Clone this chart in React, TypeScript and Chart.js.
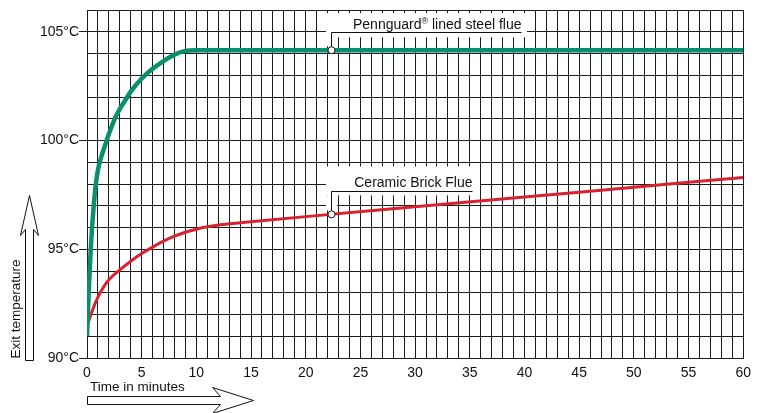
import React, { useEffect, useRef } from 'react';
import { Chart, registerables } from 'chart.js';

Chart.register(...registerables);

// ---- data ----
const steelMinutes = [0, 0.1, 0.2, 0.3, 0.4, 0.6, 0.8, 1, 1.25, 1.5, 2, 2.5, 3, 3.5, 4, 5, 6, 7, 8, 9, 10, 60];
const steelTemps = [91.0, 92.3, 93.5, 94.6, 95.5, 96.9, 97.95, 98.65, 99.15, 99.55, 100.3, 100.95, 101.45, 101.85, 102.25, 102.85, 103.3, 103.65, 103.95, 104.12, 104.15, 104.15];

const brickMinutes = [0, 0.5, 1, 1.5, 2, 3, 4, 5, 6, 7, 8, 9, 10, 11, 12, 13, 14, 20, 30, 40, 50, 60];
const brickTemps = [91.45, 92.2, 92.8, 93.25, 93.6, 94.05, 94.45, 94.8, 95.1, 95.37, 95.6, 95.78, 95.92, 96.03, 96.11, 96.17, 96.22, 96.5, 96.95, 97.4, 97.85, 98.3];

const seriesNames = ['Pennguard lined steel flue', 'Ceramic Brick Flue'];
const annotationMinute = 22.3;
const xTitle = 'Time in minutes';
const yTitle = 'Exit temperature';
const yUnit = '°C';

const FONT = '"Liberation Sans", Arial, Helvetica, sans-serif';
const GRID = '#1c1c1c';

function interp(xs: number[], ys: number[], v: number) {
  for (let i = 0; i < xs.length - 1; i++) {
    if (v >= xs[i] && v <= xs[i + 1]) {
      const t = (v - xs[i]) / (xs[i + 1] - xs[i]);
      return ys[i] + t * (ys[i + 1] - ys[i]);
    }
  }
  return ys[ys.length - 1];
}

const overlayPlugin = {
  id: 'overlay',
  afterDatasetsDraw(chart: any) {
    const { ctx, scales } = chart;
    const x = scales.x;
    const y = scales.y;
    const px = Math.round(x.getPixelForValue(annotationMinute)) + 0.5;

    ctx.save();
    // ---- Pennguard annotation ----
    {
      const py = y.getPixelForValue(interp(steelMinutes, steelTemps, annotationMinute));
      const leaderY = Math.round(py - 18) + 0.5;
      const leaderEnd = px + 190;
      ctx.fillStyle = '#fff';
      ctx.fillRect(px - 5.5, py - 37, 201, 24);
      ctx.fillRect(px - 5.5, py - 14, 11, 10);
      ctx.strokeStyle = '#111';
      ctx.lineWidth = 1;
      ctx.beginPath();
      ctx.moveTo(px, py);
      ctx.lineTo(px, leaderY);
      ctx.lineTo(leaderEnd, leaderY);
      ctx.stroke();
      ctx.fillStyle = '#111';
      ctx.textBaseline = 'alphabetic';
      ctx.textAlign = 'left';
      ctx.font = '14px ' + FONT;
      const p1 = 'Pennguard';
      const p3 = ' lined steel flue';
      const w1 = ctx.measureText(p1).width;
      const w3 = ctx.measureText(p3).width;
      ctx.font = '9px ' + FONT;
      const w2 = ctx.measureText('®').width;
      const start = leaderEnd - (w1 + w2 + w3);
      const base = leaderY - 4;
      ctx.font = '14px ' + FONT;
      ctx.fillText(p1, start, base);
      ctx.font = '9px ' + FONT;
      ctx.fillText('®', start + w1, base - 5);
      ctx.font = '14px ' + FONT;
      ctx.fillText(p3, start + w1 + w2, base);
      ctx.beginPath();
      ctx.arc(px, py, 3.5, 0, Math.PI * 2);
      ctx.fillStyle = '#fff';
      ctx.fill();
      ctx.stroke();
    }
    // ---- Ceramic annotation ----
    {
      const py = y.getPixelForValue(interp(brickMinutes, brickTemps, annotationMinute));
      const leaderY = Math.round(py - 23) + 0.5;
      const leaderEnd = px + 141;
      ctx.fillStyle = '#fff';
      ctx.fillRect(px - 5.5, py - 48, 154, 29);
      ctx.fillRect(px - 5.5, py - 19, 11, 15);
      ctx.strokeStyle = '#111';
      ctx.lineWidth = 1;
      ctx.beginPath();
      ctx.moveTo(px, py);
      ctx.lineTo(px, leaderY);
      ctx.lineTo(leaderEnd, leaderY);
      ctx.stroke();
      ctx.fillStyle = '#111';
      ctx.textAlign = 'right';
      ctx.textBaseline = 'alphabetic';
      ctx.font = '14px ' + FONT;
      ctx.fillText(seriesNames[1], leaderEnd, leaderY - 5);
      ctx.beginPath();
      ctx.arc(px, py, 3.5, 0, Math.PI * 2);
      ctx.fillStyle = '#fff';
      ctx.fill();
      ctx.stroke();
    }
    ctx.restore();
  },
  afterDraw(chart: any) {
    const { ctx, chartArea } = chart;
    ctx.save();
    ctx.strokeStyle = '#111';
    ctx.fillStyle = '#fff';
    ctx.lineWidth = 1;
    // x arrow
    const l = chartArea.left + 0.5;
    ctx.beginPath();
    ctx.moveTo(l, 396.5);
    ctx.lineTo(220.5, 396.5);
    ctx.lineTo(212.5, 387.5);
    ctx.lineTo(253.5, 400.5);
    ctx.lineTo(212.5, 413.5);
    ctx.lineTo(220.5, 404.5);
    ctx.lineTo(l, 404.5);
    ctx.closePath();
    ctx.fill();
    ctx.stroke();
    // y arrow
    const b = chartArea.bottom + 2.5;
    ctx.beginPath();
    ctx.moveTo(25.5, b);
    ctx.lineTo(25.5, 229.5);
    ctx.lineTo(20.5, 235.5);
    ctx.lineTo(29.5, 195.5);
    ctx.lineTo(38.5, 235.5);
    ctx.lineTo(33.5, 229.5);
    ctx.lineTo(33.5, b);
    ctx.closePath();
    ctx.fill();
    ctx.stroke();
    // titles
    ctx.fillStyle = '#111';
    ctx.font = '13.5px ' + FONT;
    ctx.textAlign = 'left';
    ctx.textBaseline = 'alphabetic';
    ctx.fillText(xTitle, chartArea.left + 3, 391);
    ctx.translate(20, 309);
    ctx.rotate(-Math.PI / 2);
    ctx.textAlign = 'center';
    ctx.fillText(yTitle, 0, 0);
    ctx.restore();
  },
};

export default function App() {
  const ref = useRef<HTMLCanvasElement | null>(null);
  useEffect(() => {
    if (!ref.current) return;
    const chart = new Chart(ref.current, {
      type: 'line',
      data: {
        datasets: [
          {
            label: seriesNames[0],
            data: steelMinutes.map((m, i) => ({ x: m, y: steelTemps[i] })),
            borderColor: '#0a8f6d',
            borderWidth: 4.5,
            pointRadius: 0,
            cubicInterpolationMode: 'monotone',
            fill: false,
          },
          {
            label: seriesNames[1],
            data: brickMinutes.map((m, i) => ({ x: m, y: brickTemps[i] })),
            borderColor: '#d8232f',
            borderWidth: 3,
            pointRadius: 0,
            cubicInterpolationMode: 'monotone',
            fill: false,
          },
        ],
      },
      options: {
        animation: false,
        responsive: false,
        devicePixelRatio: 1,
        layout: { padding: { top: 10, right: 14, left: 0, bottom: 0 } },
        plugins: { legend: { display: false }, tooltip: { enabled: false } },
        scales: {
          x: {
            type: 'linear',
            min: 0,
            max: 60,
            afterFit: (s: any) => { s.height = 55; },
            grid: { color: GRID, lineWidth: 1, drawTicks: false },
            border: { color: GRID, width: 1 },
            ticks: {
              stepSize: 1,
              autoSkip: false,
              maxRotation: 0,
              padding: 7,
              color: '#111',
              font: { family: FONT, size: 14 },
              callback: (v: any) => (Number(v) % 5 === 0 ? String(v) : ''),
            },
          },
          y: {
            type: 'linear',
            min: 90,
            max: 106,
            afterFit: (s: any) => { s.width = 87; },
            grid: {
              color: GRID,
              lineWidth: 1,
              drawTicks: true,
              tickLength: 8,
              tickColor: (c: any) => (c.tick && c.tick.value % 5 === 0 ? GRID : 'rgba(0,0,0,0)'),
            },
            border: { color: GRID, width: 1 },
            ticks: {
              stepSize: 1,
              autoSkip: false,
              padding: 0,
              color: '#111',
              font: { family: FONT, size: 14 },
              callback: (v: any) => (Number(v) % 5 === 0 ? v + yUnit : ''),
            },
          },
        },
      },
      plugins: [overlayPlugin],
    } as any);
    return () => chart.destroy();
  }, []);
  return (
    <div style={{ position: 'absolute', left: 0, top: 0, width: 758, height: 413, background: '#fff' }}>
      <canvas ref={ref} width={758} height={413} style={{ width: 758, height: 413, display: 'block' }} />
    </div>
  );
}
